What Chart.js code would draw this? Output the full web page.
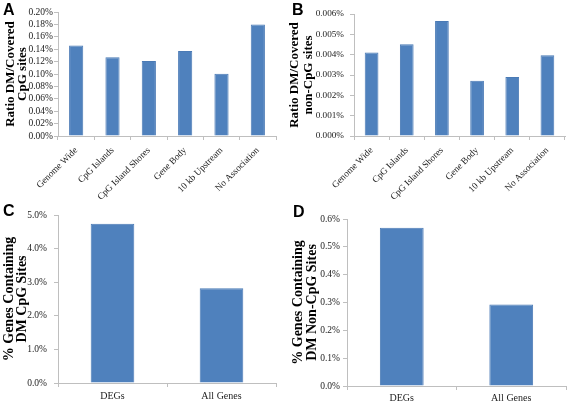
<!DOCTYPE html>
<html>
<head>
<meta charset="utf-8">
<script src="https://cdn.jsdelivr.net/npm/chart.js@4/dist/chart.umd.min.js"></script>
<style>
    body { margin: 0; background: #fff; }
    #wrap { position: relative; width: 567px; height: 401px; overflow: hidden; }
    .panel { position: absolute; }
    .letter { position: absolute; font: bold 16px "Liberation Sans", Arial, sans-serif; color: #000; }
</style>
</head>
<body>
<div id="wrap">
    <div class="panel" style="left:0;top:0;width:283px;height:200px"><canvas id="chartA"></canvas></div>
    <div class="panel" style="left:283px;top:0;width:284px;height:200px"><canvas id="chartB"></canvas></div>
    <div class="panel" style="left:0;top:200px;width:283px;height:201px"><canvas id="chartC"></canvas></div>
    <div class="panel" style="left:283px;top:200px;width:284px;height:201px"><canvas id="chartD"></canvas></div>
    <div class="letter" style="left:3px;top:1px">A</div>
    <div class="letter" style="left:292px;top:1px">B</div>
    <div class="letter" style="left:3px;top:202px">C</div>
    <div class="letter" style="left:293px;top:203px">D</div>
</div>
<script>
// regions shared by panels A and B
const regionLabels = ['Genome Wide', 'CpG Islands', 'CpG Island Shores', 'Gene Body', '10 kb Upstream', 'No Association'];
const cpgRatio = [0.146, 0.127, 0.121, 0.137, 0.1005, 0.180];          // % (panel A)
const nonCpgRatio = [0.00411, 0.00451, 0.00566, 0.00272, 0.0029, 0.00397]; // % (panel B)

// gene groups for panels C and D
const geneLabels = ['DEGs', 'All Genes'];
const genesCpg = [4.74, 2.82];      // % (panel C)
const genesNonCpg = [0.569, 0.293]; // % (panel D)

const barFill = '#4f81bd';
const barEdge = '#4a7ab5';
const axisGrey = '#bfbfbf';
const serif = "'Liberation Serif', 'Times New Roman', serif";

function makeChart(id, labels, values, opt) {
    const ctx = document.getElementById(id);
    new Chart(ctx, {
        type: 'bar',
        data: {
            labels: labels,
            datasets: [{
                data: values,
                backgroundColor: barFill,
                borderColor: barEdge,
                borderWidth: 1,
                categoryPercentage: 1,
                barPercentage: opt.barPct
            }]
        },
        options: {
            responsive: true,
            maintainAspectRatio: false,
            animation: false,
            devicePixelRatio: 1,
            layout: { padding: opt.padding },
            plugins: { legend: { display: false }, tooltip: { enabled: false } },
            scales: {
                x: {
                    afterFit: (scale) => { scale.height = opt.xHeight; },
                    border: { color: axisGrey },
                    grid: { drawOnChartArea: false, color: axisGrey, tickLength: 4, offset: true },
                    ticks: {
                        autoSkip: false,
                        minRotation: opt.rot,
                        maxRotation: opt.rot,
                        padding: opt.xPad,
                        color: '#222',
                        font: { family: serif, size: opt.xFont }
                    }
                },
                y: {
                    min: 0,
                    max: opt.max,
                    afterFit: (scale) => { scale.width = opt.yWidth; },
                    border: { color: axisGrey },
                    grid: { drawOnChartArea: false, color: axisGrey, tickLength: 4 },
                    ticks: {
                        autoSkip: false,
                        stepSize: opt.step,
                        padding: opt.yPad,
                        color: '#222',
                        font: { family: serif, size: opt.yFont },
                        callback: (v) => v.toFixed(opt.dec) + '%'
                    },
                    title: {
                        display: true,
                        text: opt.title,
                        color: '#000',
                        padding: { top: opt.titlePad, bottom: 0 },
                        font: { family: serif, size: opt.titleSize, weight: 'bold', lineHeight: opt.titleLH }
                    }
                }
            }
        }
    });
}

makeChart('chartA', regionLabels, cpgRatio, {
    max: 0.20, step: 0.02, dec: 2, barPct: 0.39, rot: 45,
    padding: { top: 12, right: 7, bottom: 0, left: 0 },
    xHeight: 64, yWidth: 58, xPad: 5, yPad: 1, xFont: 9.3, yFont: 9.5,
    title: ['Ratio DM/Covered', 'CpG sites'], titleSize: 13, titleLH: 0.9, titlePad: 5
});

makeChart('chartB', regionLabels, nonCpgRatio, {
    max: 0.006, step: 0.001, dec: 3, barPct: 0.39, rot: 45,
    padding: { top: 14, right: 2, bottom: 0, left: 0 },
    xHeight: 64, yWidth: 71, xPad: 5, yPad: 6, xFont: 9.3, yFont: 9.2,
    title: ['Ratio DM/Covered', 'non-CpG sites'], titleSize: 13, titleLH: 1.02, titlePad: 5.5
});

makeChart('chartC', geneLabels, genesCpg, {
    max: 5, step: 1, dec: 1, barPct: 0.4, rot: 0,
    padding: { top: 15, right: 7, bottom: 0, left: 0 },
    xHeight: 18, yWidth: 58, xPad: 3, yPad: 7, xFont: 10, yFont: 9.5,
    title: ['% Genes Containing', 'DM CpG Sites'], titleSize: 14, titleLH: 0.9, titlePad: 3
});

makeChart('chartD', geneLabels, genesNonCpg, {
    max: 0.6, step: 0.1, dec: 1, barPct: 0.4, rot: 0,
    padding: { top: 19, right: 1, bottom: 0, left: 0 },
    xHeight: 15, yWidth: 64, xPad: 2, yPad: 3, xFont: 10, yFont: 9.5,
    title: ['% Genes Containing', 'DM Non-CpG Sites'], titleSize: 14, titleLH: 0.95, titlePad: 9
});
</script>
</body>
</html>
